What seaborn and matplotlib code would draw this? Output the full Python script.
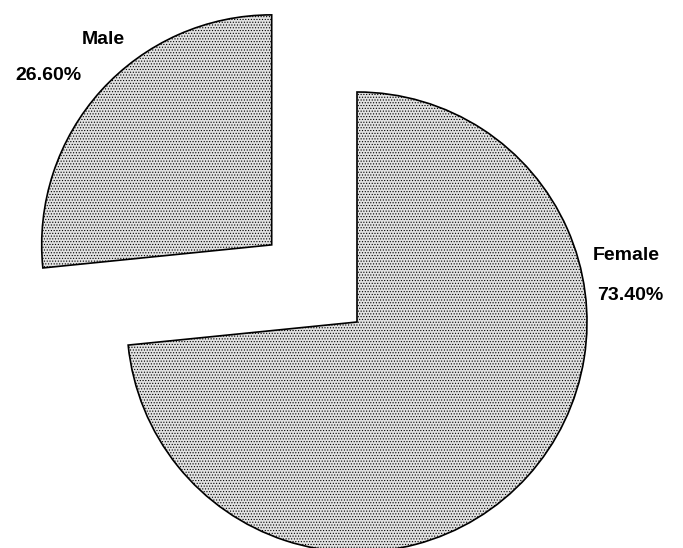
import matplotlib
matplotlib.use("Agg")
import matplotlib.pyplot as plt
import seaborn as sns

categories = ["Female", "Male"]
values = [73.40, 26.60]
pct_labels = ["73.40%", "26.60%"]

sns.set_style("white")
plt.rcParams['font.family'] = ['Liberation Sans', 'DejaVu Sans']
plt.rcParams['hatch.color'] = '#b0b0b0'
plt.rcParams['hatch.linewidth'] = 0.5

fig = plt.figure(figsize=(6.83, 5.48), dpi=100)
ax = fig.add_axes([0, 0, 1, 1])

R = 230
wedges, _ = ax.pie(values, startangle=90, counterclock=False, explode=[0, 0.5 * R],
                   center=(357, 226), radius=R, frame=True,
                   wedgeprops=dict(facecolor='#e2e2e2', edgecolor='black', linewidth=1.2, hatch='......'))
ax.set_xlim(0, 683)
ax.set_ylim(0, 548)
ax.set_aspect('equal')
ax.axis('off')

kw = dict(fontsize=14, fontweight='bold', color='black', va='center')
ax.text(626, 292, categories[0], ha='center', **kw)
ax.text(630, 252, pct_labels[0], ha='center', **kw)
ax.text(103, 509, categories[1], ha='center', **kw)
ax.text(48, 472, pct_labels[1], ha='center', **kw)

fig.savefig("out.png", dpi=100)
